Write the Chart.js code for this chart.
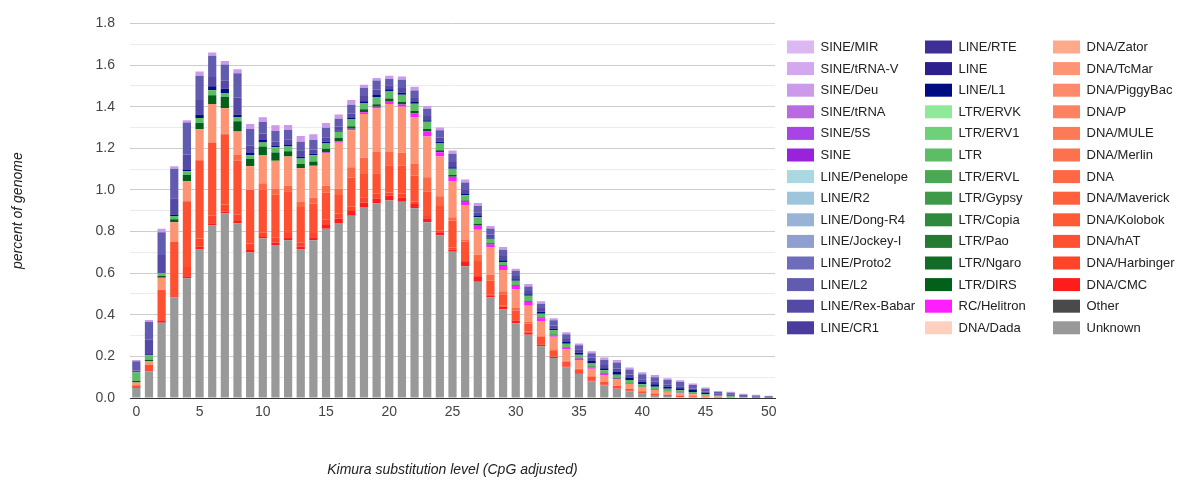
<!DOCTYPE html>
<html>
<head>
<meta charset="utf-8">
<script src="https://cdn.jsdelivr.net/npm/chart.js@4"></script>
<style>
  body { margin: 0; background: #fff; }
  canvas { display: block; }
</style>
</head>
<body>
<canvas id="chart" width="1183" height="487"></canvas>
<script>
// Kimura substitution levels (x categories)
const kimura = ['0','1','2','3','4','5','6','7','8','9','10','11','12','13','14','15','16','17','18','19','20',
  '21','22','23','24','25','26','27','28','29','30','31','32','33','34','35','36','37','38','39','40',
  '41','42','43','44','45','46','47','48','49','50'];

// y tick labels
const yTicks = ['0.0','0.2','0.4','0.6','0.8','1.0','1.2','1.4','1.6','1.8'];

// legend order (top of stack first, as in the legend)
const legendNames = [
  'SINE/MIR','SINE/tRNA-V','SINE/Deu','SINE/tRNA','SINE/5S','SINE','LINE/Penelope','LINE/R2','LINE/Dong-R4',
  'LINE/Jockey-I','LINE/Proto2','LINE/L2','LINE/Rex-Babar','LINE/CR1',
  'LINE/RTE','LINE','LINE/L1','LTR/ERVK','LTR/ERV1','LTR','LTR/ERVL','LTR/Gypsy','LTR/Copia','LTR/Pao',
  'LTR/Ngaro','LTR/DIRS','RC/Helitron','DNA/Dada',
  'DNA/Zator','DNA/TcMar','DNA/PiggyBac','DNA/P','DNA/MULE','DNA/Merlin','DNA','DNA/Maverick','DNA/Kolobok',
  'DNA/hAT','DNA/Harbinger','DNA/CMC','Other','Unknown'
];
const legendColors = [
  '#dbb8f2','#d4a8ef','#cb9aea','#b86ae2','#a844e6','#9a22dc','#a9d8e2','#9fc5dc','#98b3d6',
  '#8f9fcf','#706cbc','#625cb0','#5549a8','#4a3b9e',
  '#3d2f96','#2b208c','#000d80','#8eea98','#6fd07a','#5cbd66','#4aa852','#3e9a49','#30893d','#247a31',
  '#126b27','#03601a','#ff1eff','#ffd0c0',
  '#fca98c','#fd9474','#fd8a6b','#fd8262','#fd7a58','#fe714f','#fe6945','#fe613c','#ff5a36',
  '#ff5131','#ff4429','#ff1c1c','#4a4a4a','#999999'
];

// series values, percent of genome per Kimura bin
const unknown = [0.048,0.128,0.362,0.484,0.575,0.714,0.829,0.887,0.84,0.699,0.766,0.735,0.758,0.714,0.758,0.813,0.841,
  0.876,0.918,0.935,0.949,0.943,0.912,0.844,0.781,0.703,0.633,0.558,0.484,0.426,0.359,0.304,0.249,0.192,0.147,
  0.116,0.081,0.061,0.045,0.033,0.022,0.014,0.01,0.005,0.003,0.002,0.001,0,0,0,0];
const dnaCMC = [0.004,0.005,0.012,0.005,0.01,0.013,0.011,0.008,0.01,0.012,0.008,0.012,0.015,0.014,0.015,0.018,0.02,
  0.023,0.022,0.022,0.023,0.02,0.02,0.02,0.015,0.01,0.02,0.023,0.01,0.012,0.012,0.01,0.008,0.005,0.004,
  0.004,0.003,0.003,0.002,0.002,0.002,0.001,0,0,0,0,0,0,0,0,0];
const dnaHarbinger = [0,0,0,0,0.045,0.039,0.036,0.035,0.03,0.031,0.023,0.025,0.02,0.02,0.02,0.025,0.025,
  0.02,0.025,0.024,0.016,0.02,0.012,0.01,0.01,0.01,0.005,0.005,0.005,0.005,0.004,0.004,0.003,0.002,0.002,
  0,0.002,0,0,0,0,0,0,0,0,0,0,0,0,0,0];
const dnaHAT = [0.009,0.025,0.146,0.261,0.315,0.376,0.352,0.337,0.26,0.258,0.205,0.205,0.2,0.17,0.14,0.13,0.09,
  0.14,0.111,0.099,0.13,0.133,0.125,0.117,0.117,0.13,0.094,0.072,0.064,0.055,0.045,0.04,0.035,0.03,0.022,
  0.018,0.017,0.014,0.012,0.01,0.008,0.007,0.006,0.006,0.005,0.003,0.002,0.001,0,0,0];
const dnaUnclassified = [0,0,0,0,0,0,0,0,0.03,0,0.03,0.03,0.027,0.026,0.029,0.034,0.03,
  0.05,0.078,0.105,0.066,0.063,0.055,0.07,0.047,0.015,0.01,0.03,0.03,0.015,0.013,0.01,0.005,0.005,0.004,
  0.004,0.003,0.002,0,0,0,0,0,0,0,0,0,0,0,0,0];
const dnaTcMar = [0.013,0.02,0.058,0.094,0.097,0.149,0.185,0.125,0.11,0.114,0.136,0.133,0.141,0.16,0.154,0.157,0.22,
  0.177,0.211,0.206,0.229,0.22,0.224,0.196,0.191,0.172,0.165,0.12,0.13,0.102,0.09,0.075,0.07,0.06,0.055,
  0.04,0.035,0.03,0.03,0.022,0.018,0.016,0.014,0.012,0.01,0.006,0.004,0.003,0.002,0.001,0];
const rcHelitron = [0,0,0,0,0,0,0,0,0,0,0,0,0,0,0,0.003,0.008,
  0.008,0.008,0.008,0.014,0.011,0.019,0.023,0.02,0.023,0.016,0.023,0.015,0.02,0.016,0.019,0.013,0.008,0.007,
  0.008,0.007,0.005,0.004,0.003,0.002,0.002,0.002,0.002,0.001,0,0,0,0,0,0];
const ltrDIRS = [0.008,0.006,0.008,0.015,0.03,0.03,0.042,0.055,0.05,0.034,0.04,0.04,0.025,0.02,0.02,0.018,0.015,
  0.012,0.015,0.012,0.012,0.012,0.012,0.012,0.01,0.008,0.006,0.006,0.005,0.004,0.004,0.004,0.004,0.003,0.003,
  0.003,0.003,0.003,0.003,0.002,0.002,0.002,0.002,0.002,0.002,0.001,0,0,0,0,0];
const ltrUnclassified = [0.04,0.022,0.015,0.015,0.017,0.025,0.024,0.019,0.02,0.019,0.02,0.025,0.022,0.027,0.03,0.025,0.03,
  0.035,0.03,0.035,0.036,0.035,0.035,0.035,0.032,0.03,0.025,0.032,0.022,0.015,0.02,0.025,0.018,0.02,0.017,
  0.015,0.015,0.015,0.016,0.014,0.012,0.012,0.01,0.01,0.008,0.006,0.005,0.004,0.002,0.002,0.001];
const lineL1 = [0,0.004,0,0.008,0.006,0.016,0.019,0.02,0.011,0.01,0.012,0.008,0.008,0.01,0.008,0.008,0.005,
  0.005,0.008,0.01,0.008,0.01,0.008,0.008,0.008,0.008,0.006,0.005,0.006,0.008,0.008,0.008,0.01,0.008,0.008,
  0.01,0.012,0.01,0.015,0.012,0.012,0.012,0.01,0.01,0.009,0.007,0.004,0.004,0.002,0.002,0.001];
const lineRexBabar = [0.01,0.07,0.086,0.078,0.075,0.07,0.044,0.039,0.083,0.035,0.031,0.02,0.025,0.03,0.02,0.022,0.02,
  0.02,0.025,0.025,0.02,0.022,0.02,0.02,0.02,0.025,0.02,0.018,0.015,0.02,0.015,0.015,0.018,0.015,0.015,
  0.016,0.015,0.015,0.015,0.015,0.012,0.012,0.01,0.01,0.008,0.006,0.004,0.004,0.003,0.002,0.002];
const lineL2 = [0.045,0.086,0.11,0.142,0.154,0.117,0.102,0.078,0.116,0.08,0.055,0.05,0.047,0.04,0.046,0.045,0.038,
  0.043,0.038,0.045,0.03,0.04,0.035,0.035,0.035,0.04,0.035,0.03,0.028,0.03,0.025,0.022,0.02,0.025,0.022,
  0.02,0.022,0.025,0.028,0.024,0.024,0.022,0.022,0.02,0.017,0.013,0.009,0.009,0.007,0.005,0.004];
const sineDeu = [0.006,0.009,0.016,0.012,0.011,0.02,0.016,0.016,0.02,0.025,0.023,0.028,0.024,0.028,0.027,0.024,0.02,
  0.023,0.016,0.012,0.016,0.016,0.019,0.013,0.014,0.015,0.015,0.015,0.012,0.013,0.01,0.012,0.012,0.01,0.01,
  0.008,0.01,0.012,0.012,0.01,0.01,0.01,0.009,0.008,0.007,0.006,0.005,0.005,0.004,0.004,0.003];

const seriesData = {
  'Unknown': unknown, 'DNA/CMC': dnaCMC, 'DNA/Harbinger': dnaHarbinger, 'DNA/hAT': dnaHAT,
  'DNA': dnaUnclassified, 'DNA/TcMar': dnaTcMar, 'RC/Helitron': rcHelitron, 'LTR/DIRS': ltrDIRS,
  'LTR': ltrUnclassified, 'LINE/L1': lineL1, 'LINE/Rex-Babar': lineRexBabar, 'LINE/L2': lineL2, 'SINE/Deu': sineDeu
};

const FONT = 'Arial, "Liberation Sans", Helvetica, sans-serif';

// stack is built bottom-up, so datasets go in reverse legend order
const datasets = legendNames.map((name, i) => ({
  label: name,
  data: seriesData[name] || [],
  backgroundColor: legendColors[i],
  borderWidth: 0,
  stack: 'rep',
  categoryPercentage: 1.0,
  barPercentage: 0.65
})).reverse();

// legend drawn in 3 columns x 14 rows, like the reference
const gridLegend = {
  id: 'gridLegend',
  afterDraw(chart) {
    const ctx = chart.ctx;
    const colX = [787, 925, 1053];
    const rows = 14, top = 40.5, step = 21.6;
    ctx.save();
    ctx.font = '13px ' + FONT;
    ctx.textBaseline = 'middle';
    ctx.textAlign = 'left';
    legendNames.forEach((name, i) => {
      const col = Math.floor(i / rows), row = i % rows;
      const x = colX[col], y = top + row * step;
      ctx.fillStyle = legendColors[i];
      ctx.fillRect(x, y, 27, 13);
      ctx.save();
      const clipRight = col < 2 ? colX[col + 1] - 8 : 1183;
      ctx.beginPath();
      ctx.rect(x, y - 6, clipRight - x, 26);
      ctx.clip();
      ctx.fillStyle = '#222';
      ctx.fillText(name, x + 33.5, y + 7);
      ctx.restore();
    });
    ctx.restore();
  }
};

new Chart(document.getElementById('chart'), {
  type: 'bar',
  data: { labels: kimura, datasets: datasets },
  options: {
    responsive: false,
    animation: false,
    layout: { padding: { top: 15, right: 408, bottom: 0, left: 0 } },
    plugins: {
      legend: { display: false },
      tooltip: { enabled: false }
    },
    scales: {
      x: {
        stacked: true,
        afterFit: s => { s.height = 89; },
        grid: { display: false, drawTicks: false },
        border: { display: true, color: '#333', width: 1 },
        ticks: {
          autoSkip: false, maxRotation: 0, padding: 6,
          color: '#444', font: { family: FONT, size: 14 },
          callback: (v, i) => (i % 5 === 0 ? kimura[i] : '')
        },
        title: {
          display: true, text: 'Kimura substitution level (CpG adjusted)',
          color: '#222', font: { family: FONT, size: 14, style: 'italic' },
          padding: { top: 0, bottom: 8 }
        }
      },
      y: {
        stacked: true,
        min: 0, max: 1.8,
        afterFit: s => { s.width = 130; },
        grid: {
          drawTicks: false,
          color: c => (c.index === 0 ? '#333' : (c.index % 2 === 0 ? '#cccccc' : '#ebebeb'))
        },
        border: { display: false },
        ticks: {
          stepSize: 0.1, autoSkip: false, padding: 15,
          color: '#444', font: { family: FONT, size: 14 },
          callback: (v, i) => (i % 2 === 0 ? yTicks[i / 2] : '')
        },
        title: {
          display: true, text: 'percent of genome',
          color: '#222', font: { family: FONT, size: 14, style: 'italic' },
          padding: { top: 10, bottom: 0 }
        }
      }
    }
  },
  plugins: [gridLegend]
});
</script>
</body>
</html>
